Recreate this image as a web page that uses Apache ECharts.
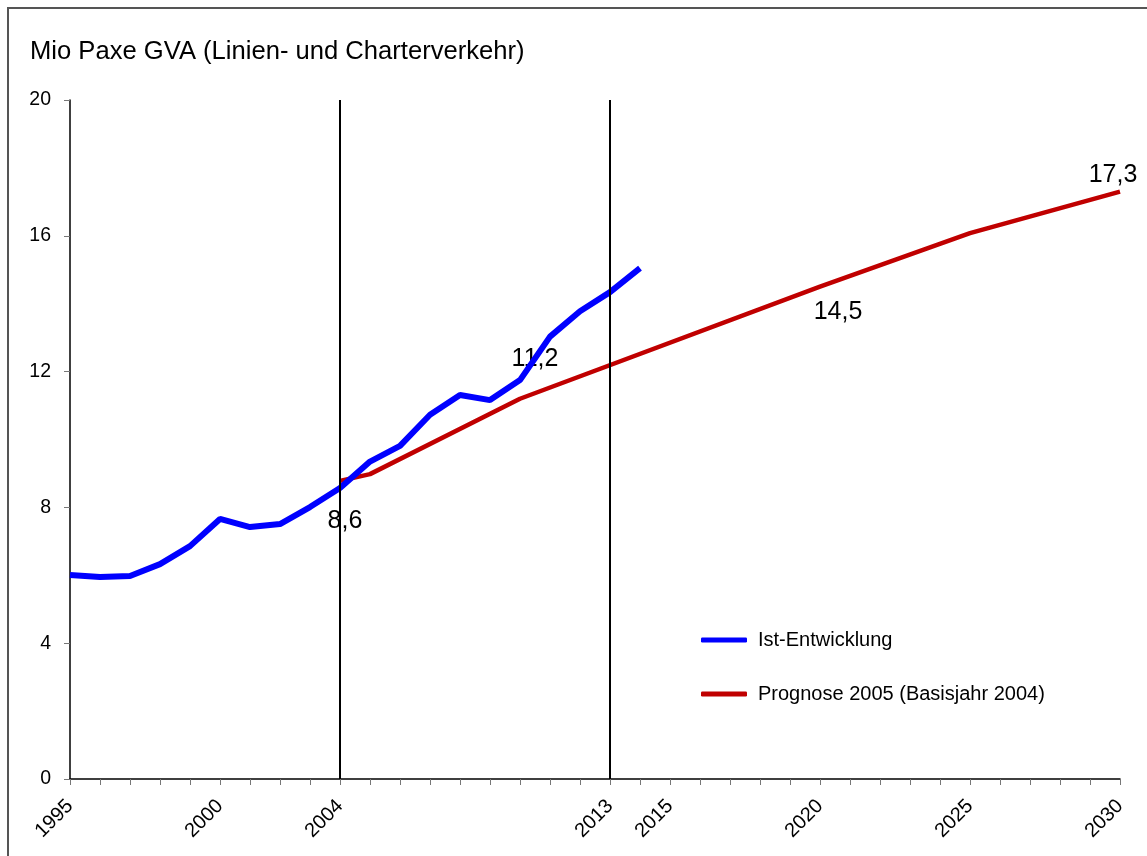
<!DOCTYPE html>
<html>
<head>
<meta charset="utf-8">
<script src="https://cdn.jsdelivr.net/npm/echarts@6/dist/echarts.min.js"></script>
<style>
html,body{margin:0;padding:0;background:#fff;}
#chart{width:1147px;height:856px;}
</style>
</head>
<body>
<div id="chart"></div>
<script>
var titleText = 'Mio Paxe GVA (Linien- und Charterverkehr)';
var labeledYears = [1995, 2000, 2004, 2013, 2015, 2020, 2025, 2030];
var markYears = [2004, 2013];
var yTicks = [0, 4, 8, 12, 16, 20];

var istYears = [1995, 1996, 1997, 1998, 1999, 2000, 2001, 2002, 2003, 2004, 2005, 2006, 2007, 2008, 2009, 2010, 2011, 2012, 2013, 2014];
var istValues = [6.01, 5.95, 5.98, 6.33, 6.86, 7.66, 7.42, 7.51, 8.01, 8.57, 9.35, 9.81, 10.73, 11.31, 11.16, 11.75, 13.03, 13.78, 14.34, 15.05];

var progYears = [2004, 2005, 2010, 2020, 2025, 2030];
var progValues = [8.78, 8.98, 11.2, 14.5, 16.08, 17.3];

var seriesNames = ['Ist-Entwicklung', 'Prognose 2005 (Basisjahr 2004)'];
var valueLabels = {ist2004: '8,6', prog2010: '11,2', prog2020: '14,5', prog2030: '17,3'};

var FONT = 'Liberation Sans, Arial, sans-serif';
var labelStyle = {show: true, color: '#000', fontSize: 25, fontFamily: FONT, distance: 5};

var istData = istYears.map(function (y, i) {
  var d = {value: [y, istValues[i]]};
  if (y === 2004) {
    d.label = Object.assign({}, labelStyle, {formatter: valueLabels.ist2004, position: 'bottom', offset: [5, 16]});
  }
  return d;
});
var progData = progYears.map(function (y, i) {
  var d = {value: [y, progValues[i]]};
  if (y === 2010) d.label = Object.assign({}, labelStyle, {formatter: valueLabels.prog2010, position: 'top', offset: [15, -22]});
  if (y === 2020) d.label = Object.assign({}, labelStyle, {formatter: valueLabels.prog2020, position: 'bottom', offset: [18, 8]});
  if (y === 2030) d.label = Object.assign({}, labelStyle, {formatter: valueLabels.prog2030, position: 'top', offset: [-7, 1]});
  return d;
});

var chart = echarts.init(document.getElementById('chart'));
chart.setOption({
  animation: false,
  backgroundColor: '#fff',
  textStyle: {fontFamily: FONT},
  graphic: [{
    type: 'rect',
    shape: {x: 8, y: 8, width: 1160, height: 880},
    style: {fill: 'none', stroke: '#555', lineWidth: 2},
    silent: true
  }],
  title: {
    text: titleText,
    left: 25, top: 34,
    textStyle: {fontSize: 25.6, fontWeight: 'normal', color: '#000', fontFamily: FONT}
  },
  legend: {
    orient: 'vertical',
    left: 696, top: 625,
    itemGap: 34,
    itemWidth: 46, itemHeight: 5,
    icon: 'roundRect',
    textStyle: {fontSize: 20, color: '#000', fontFamily: FONT, padding: [0, 0, 0, 6]},
    data: seriesNames
  },
  grid: {left: 70, top: 100, right: 27, bottom: 77},
  xAxis: {
    type: 'value',
    min: 1995, max: 2030, interval: 1,
    splitLine: {show: false},
    axisLine: {lineStyle: {color: '#000', width: 1.5}},
    axisTick: {show: true, length: 6, lineStyle: {color: '#777', width: 1}},
    axisLabel: {
      rotate: 45,
      fontSize: 20,
      color: '#000',
      fontFamily: FONT,
      margin: 24,
      showMinLabel: true, showMaxLabel: true,
      formatter: function (v) { return labeledYears.indexOf(v) >= 0 ? String(v) : ''; }
    }
  },
  yAxis: {
    type: 'value',
    min: 0, max: 20, interval: 4,
    splitLine: {show: false},
    axisLine: {show: true, lineStyle: {color: '#000', width: 1.5}},
    axisTick: {show: true, length: 6, lineStyle: {color: '#777', width: 1}},
    axisLabel: {fontSize: 19.5, color: '#000', fontFamily: FONT, margin: 19}
  },
  series: [{
    name: seriesNames[0],
    type: 'line',
    data: istData,
    showSymbol: true,
    symbol: 'circle',
    symbolSize: 0.01,
    color: '#0000FF',
    lineStyle: {width: 6, color: '#0000FF'},
    z: 3,
    markLine: {
      silent: true,
      symbol: 'none',
      label: {show: false},
      lineStyle: {color: '#000', width: 2, type: 'solid'},
      data: markYears.map(function (y) { return {xAxis: y}; })
    }
  }, {
    name: seriesNames[1],
    type: 'line',
    data: progData,
    showSymbol: true,
    symbol: 'circle',
    symbolSize: 0.01,
    color: '#C00000',
    lineStyle: {width: 4.5, color: '#C00000'},
    z: 2
  }]
});
</script>
</body>
</html>
